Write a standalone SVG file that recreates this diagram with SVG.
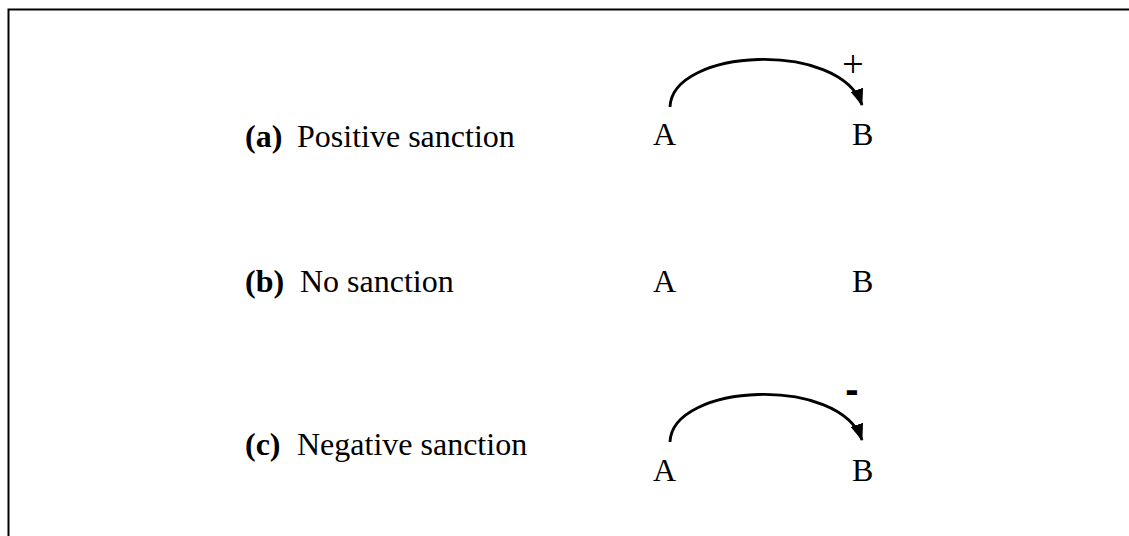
<svg xmlns="http://www.w3.org/2000/svg" width="1129" height="536" viewBox="0 0 1129 536">
<defs>
<style>
.t{font-family:"Liberation Serif","Times New Roman",serif;font-size:32px;fill:#000}
.b{font-weight:bold}
.arc{fill:none;stroke:#000;stroke-width:2.8}
</style>
<marker id="ah" markerWidth="17" markerHeight="13" refX="16" refY="6.5" orient="auto" markerUnits="userSpaceOnUse">
<path d="M0,0 L17,6.5 L0,13 Z" fill="#000"/>
</marker>
</defs>
<rect x="0" y="0" width="1129" height="536" fill="#fff"/>
<rect x="8.5" y="9.5" width="1140" height="540" fill="none" stroke="#000" stroke-width="2"/>
<g id="row-a">
<text class="t" x="245" y="147"><tspan class="b">(a)</tspan><tspan x="297">Positive sanction</tspan></text>
<g id="a-A"><text class="t" x="653" y="145">A</text></g>
<g id="a-B"><text class="t" x="852" y="145">B</text></g>
<text x="853" y="77" text-anchor="middle" style="font-family:'Liberation Serif',serif;font-size:38px">+</text>
</g>
<g id="row-b">
<text class="t" x="245" y="292"><tspan class="b">(b)</tspan><tspan x="300">No sanction</tspan></text>
<g id="b-A"><text class="t" x="653" y="292">A</text></g>
<g id="b-B"><text class="t" x="852" y="292">B</text></g>
</g>
<g id="row-c">
<text class="t" x="245" y="455"><tspan class="b">(c)</tspan><tspan x="297">Negative sanction</tspan></text>
<g id="c-A"><text class="t" x="653" y="481">A</text></g>
<g id="c-B"><text class="t" x="852" y="481">B</text></g>
<text x="852" y="403" text-anchor="middle" style="font-family:'Liberation Sans',sans-serif;font-size:40px;font-weight:bold">-</text>
</g>
<g id="connectors">
<path class="arc" d="M670,107 C672,48 840,40 862,105" marker-end="url(#ah)"/>
<path class="arc" d="M670,442 C672,383 840,375 862,440" marker-end="url(#ah)"/>
</g>
</svg>
